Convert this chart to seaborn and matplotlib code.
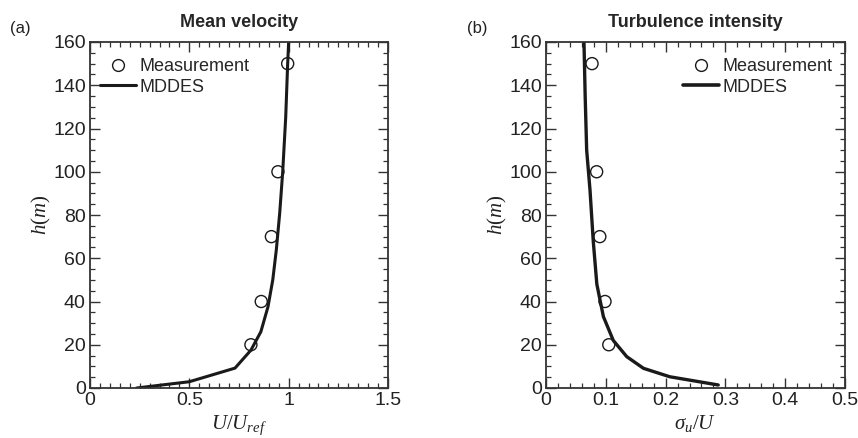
import matplotlib
matplotlib.use("Agg")
import matplotlib.pyplot as plt
import seaborn as sns
import pandas as pd
from matplotlib.ticker import MultipleLocator, FuncFormatter
from matplotlib.lines import Line2D

# Mean velocity (a)
mv_meas_u = [0.81, 0.862, 0.913, 0.946, 0.995]
mv_meas_h = [20, 40, 70, 100, 150]
mv_sim_u = [0.235, 0.50, 0.73, 0.81, 0.86, 0.896, 0.92, 0.938, 0.955, 0.97, 0.985, 0.995, 1.0]
mv_sim_h = [0, 2.9, 9.2, 17.5, 26, 37.6, 50, 64, 81, 100, 125, 150, 160]

# Turbulence intensity (b)
ti_meas_s = [0.105, 0.0987, 0.090, 0.0847, 0.077]
ti_meas_h = [20, 40, 70, 100, 150]
ti_sim_s = [0.288, 0.207, 0.163, 0.135, 0.1125, 0.096, 0.085, 0.079, 0.0736, 0.068, 0.0655, 0.0635]
ti_sim_h = [1.4, 5.2, 9.1, 14.5, 22, 33, 48, 68, 91.5, 110, 135, 160]

sns.set_theme(style="white")
plt.rcParams['font.family'] = ['Liberation Sans', 'DejaVu Sans']
plt.rcParams['mathtext.fontset'] = 'custom'
plt.rcParams['mathtext.it'] = 'Liberation Serif:italic'
plt.rcParams['mathtext.rm'] = 'Liberation Serif'
plt.rcParams['mathtext.default'] = 'it'

fig = plt.figure(figsize=(8.58, 4.38), dpi=100)
ax1 = fig.add_axes([90/858, 50/438, 298/858, 346/438])
ax2 = fig.add_axes([546/858, 50/438, 299/858, 346/438])

spine_col = '#333333'
fmt = FuncFormatter(lambda v, p: f'{v:g}')

def style(ax, xmax, xmaj, xmin):
    ax.set_xlim(0, xmax)
    ax.set_ylim(0, 160)
    ax.xaxis.set_major_locator(MultipleLocator(xmaj))
    ax.xaxis.set_minor_locator(MultipleLocator(xmin))
    ax.xaxis.set_major_formatter(fmt)
    ax.yaxis.set_major_locator(MultipleLocator(20))
    ax.yaxis.set_minor_locator(MultipleLocator(5))
    ax.tick_params(which='both', direction='in', top=True, right=True,
                   bottom=True, left=True, color=spine_col, labelsize=14,
                   labelcolor='#222222')
    ax.tick_params(which='major', length=7, width=1, pad=3)
    ax.tick_params(which='minor', length=3.5, width=0.9)
    for s in ax.spines.values():
        s.set_color(spine_col)
        s.set_linewidth(1.3)
    ax.set_ylabel('$h(m)$', fontsize=15, color='#222222', labelpad=0)

df1 = pd.DataFrame({'u': mv_sim_u, 'h': mv_sim_h})
dm1 = pd.DataFrame({'u': mv_meas_u, 'h': mv_meas_h})
sns.lineplot(data=df1, x='u', y='h', sort=False, color='#1a1a1a', lw=2.2, ax=ax1)
sns.scatterplot(data=dm1, x='u', y='h', marker='o', s=75, facecolor='none',
                edgecolor='#1a1a1a', linewidth=1.0, ax=ax1, zorder=3)
style(ax1, 1.5, 0.5, 0.05)
ax1.set_xlabel('$U/U_{ref}$', fontsize=15, color='#222222', labelpad=3)
ax1.set_title('Mean velocity', fontsize=13, fontweight='bold', pad=11)

df2 = pd.DataFrame({'s': ti_sim_s, 'h': ti_sim_h})
dm2 = pd.DataFrame({'s': ti_meas_s, 'h': ti_meas_h})
sns.lineplot(data=df2, x='s', y='h', sort=False, color='#1a1a1a', lw=2.4, ax=ax2)
sns.scatterplot(data=dm2, x='s', y='h', marker='o', s=75, facecolor='none',
                edgecolor='#1a1a1a', linewidth=1.0, ax=ax2, zorder=3)
style(ax2, 0.5, 0.1, 0.02)
ax2.set_xlabel(r'$\sigma_u/U$', fontsize=15, color='#222222', labelpad=3)
ax2.set_title('Turbulence intensity', fontsize=13, fontweight='bold', pad=11)

def handles(lw):
    return [Line2D([], [], ls='none', marker='o', mfc='none', mec='#1a1a1a', ms=8.5, mew=1.0),
            Line2D([], [], color='#1a1a1a', lw=lw)]

ax1.legend(handles(2.2), ['Measurement', 'MDDES'], loc='upper left', frameon=False,
           fontsize=13, handlelength=2.0, handletextpad=0.2, labelspacing=0.2,
           borderaxespad=0.3, bbox_to_anchor=(-0.01, 0.99))
ax2.legend(handles(2.6), ['Measurement', 'MDDES'], loc='upper right', frameon=False,
           fontsize=13, handlelength=2.0, handletextpad=0.2, labelspacing=0.2,
           borderaxespad=0.3, bbox_to_anchor=(1.0, 0.99))

fig.text(10/858, 1 - 29/438, '(a)', fontsize=12, va='center', ha='left', color='#222222')
fig.text(467/858, 1 - 29/438, '(b)', fontsize=12, va='center', ha='left', color='#222222')

fig.savefig('out.png', dpi=100)
